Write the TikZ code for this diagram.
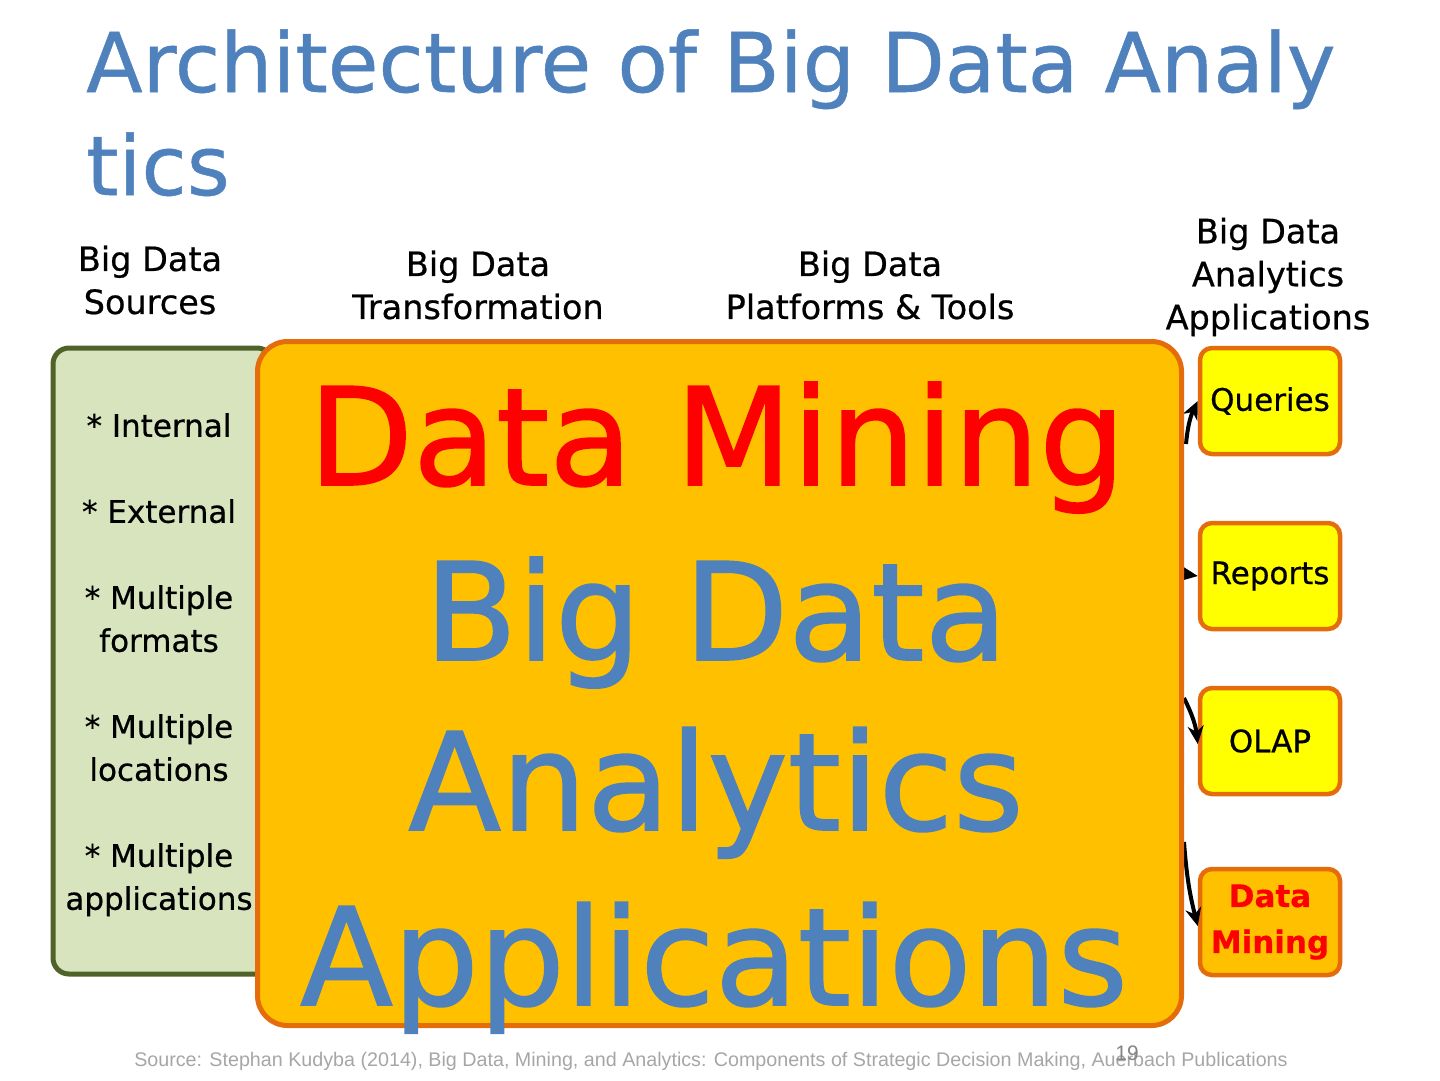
\documentclass[tikz,border=0pt]{standalone}
\usepackage{fontspec}
\setmainfont{DejaVu Sans}[FakeBold=0.6]
\newfontfamily\bigfont{DejaVu Sans}[FakeBold=1.2]
\newfontfamily\srcfont{Liberation Sans}
\usetikzlibrary{arrows.meta}
\definecolor{titleblue}{HTML}{4F81BD}
\definecolor{orfill}{HTML}{FFC000}
\definecolor{orline}{HTML}{E46C0A}
\definecolor{grfill}{HTML}{D7E4BD}
\definecolor{grline}{HTML}{4F6228}
\definecolor{ylw}{HTML}{FFFF00}
\definecolor{srcgray}{HTML}{A6A6A6}
\tikzset{
  hdr/.style={align=center, font=\fontsize{33.5}{43}\selectfont, inner sep=0pt},
  appbox/.style={draw=orline, line width=4.5pt, fill=ylw, rounded corners=12pt, minimum width=140pt, minimum height=106pt, font=\fontsize{31}{38}\selectfont, inner sep=0pt, align=center},
  bigline/.style={anchor=base, inner sep=0pt, font=\bigfont\fontsize{135.5}{135}\selectfont},
  conn/.style={-{Stealth[length=18pt,width=16pt]}, line width=4pt, black},
}
\begin{document}
\begin{tikzpicture}[x=1pt,y=-1pt]
\useasboundingbox (0,0) rectangle (1440,1080);
% title
\node[anchor=base west, inner sep=0pt, text=titleblue, font=\fontsize{82.5}{100}\selectfont] (t1) at (86,92) {Architecture of Big Data Analy};
\node[anchor=base west, inner sep=0pt, text=titleblue, font=\fontsize{82.5}{100}\selectfont] (t2) at (86,195) {tics};
% headers
\node[hdr] (h1) at (150,280) {Big Data\\Sources};
\node[hdr] (h2) at (478,285) {Big Data\\Transformation};
\node[hdr] (h3) at (870,285) {Big Data\\Platforms \& Tools};
\node[hdr] (h4) at (1268,277) {Big Data\\Analytics\\Applications};
% sources box
\node[draw=grline, line width=5pt, fill=grfill, rounded corners=16pt, minimum width=220pt, minimum height=626pt, inner sep=0pt] (src) at (163,661) {};
\node[align=center, inner sep=0pt, font=\fontsize{31}{43}\selectfont, anchor=north] (srctext) at (159,413)
 {* Internal\\[43pt]* External\\[43pt]* Multiple\\formats\\[43pt]* Multiple\\locations\\[43pt]* Multiple\\applications};
% arrow origins
\coordinate (o1) at (1186,444);
\coordinate (o2) at (1184,574);
\coordinate (o3) at (1184,698);
\coordinate (o4) at (1184,842);
% app boxes
\node[appbox] (q) at (1270,401) {Queries};
\node[appbox] (r) at (1270,576) {Reports};
\node[appbox] (ol) at (1270,741) {OLAP};
\node[appbox, fill=orfill, text=red, font=\fontsize{31}{46}\selectfont\bfseries] (dm) at (1270,922) {Data\\Mining};
\draw[conn] (o1) to[bend left=10] (q.west);
\draw[conn] (o2) -- (r.west);
\draw[conn] (o3) to[bend left=10] ([yshift=-3pt]ol.west);
\draw[conn] (o4) to[bend right=5] ([yshift=-4pt]dm.west);
% big box
\node[draw=orline, line width=5pt, fill=orfill, rounded corners=30pt, minimum width=924pt, minimum height=684pt, inner sep=0pt] (big) at (719.5,683.5) {};
\node[bigline, text=red] (b1) at (717,485) {Data Mining};
\node[bigline, text=titleblue] (b2) at (716,660) {Big Data};
\node[bigline, text=titleblue] (b3) at (716,830) {Analytics};
\node[bigline, text=titleblue] (b4) at (714,1005) {Applications};
% footer
\node[anchor=base, inner sep=0pt, text=srcgray, font=\srcfont\fontsize{19.7}{20}\selectfont] (src2) at (711,1066) {Source: Stephan Kudyba (2014), Big Data, Mining, and Analytics: Components of Strategic Decision Making, Auerbach Publications};
\node[anchor=base, inner sep=0pt, text=srcgray!80!black, font=\srcfont\fontsize{21}{22}\selectfont] (pg) at (1127,1060) {19};
\end{tikzpicture}
\end{document}
